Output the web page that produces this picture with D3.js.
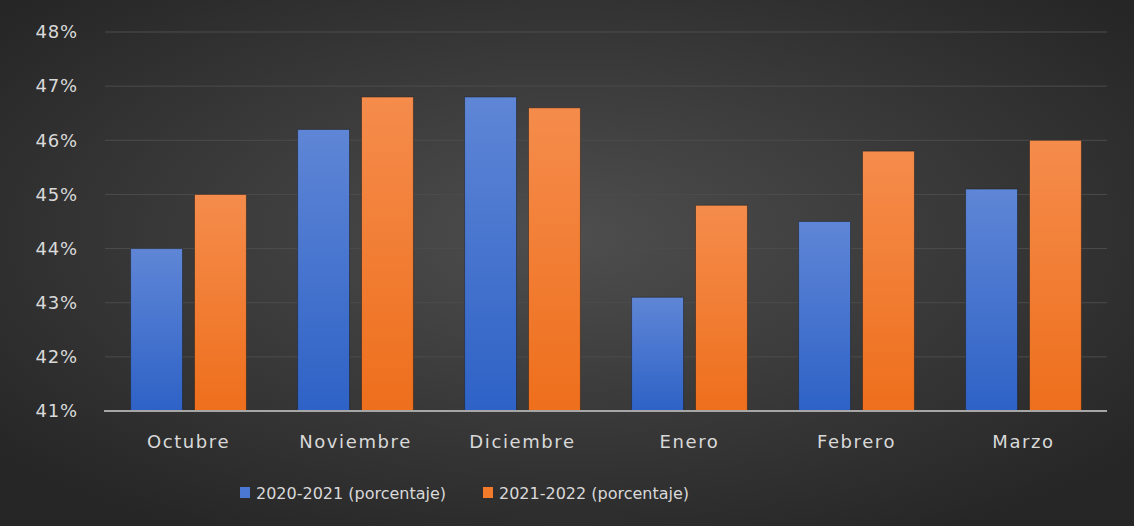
<!DOCTYPE html>
<html>
<head>
<meta charset="utf-8">
<script src="https://cdn.jsdelivr.net/npm/d3@7"></script>
<style>
  body { margin: 0; background: #2a2a2a; }
  svg { display: block; }
  text { font-family: "DejaVu Sans", sans-serif; fill: #d9d9d9; }
</style>
</head>
<body>
<div id="chart"></div>
<script>
var months = ["Octubre", "Noviembre", "Diciembre", "Enero", "Febrero", "Marzo"];
var serie2021 = [44.0, 46.2, 46.8, 43.1, 44.5, 45.1];
var serie2022 = [45.0, 46.8, 46.6, 44.8, 45.8, 46.0];
var seriesNames = ["2020-2021 (porcentaje)", "2021-2022 (porcentaje)"];
var yTicks = [41, 42, 43, 44, 45, 46, 47, 48];

var width = 1134, height = 526;
var margin = {top: 32, left: 105, right: 27, bottom: 115};

var svg = d3.select("#chart")
    .append("svg")
    .attr("width", width)
    .attr("height", height);

var defs = svg.append("defs");
var bg = defs.append("radialGradient").attr("id", "bg")
    .attr("cx", "50%").attr("cy", "45%").attr("r", "65%");
bg.append("stop").attr("offset", "0%").attr("stop-color", "#4e4e4e");
bg.append("stop").attr("offset", "100%").attr("stop-color", "#262626");

var gBlue = defs.append("linearGradient").attr("id", "gBlue")
    .attr("x1", 0).attr("y1", 0).attr("x2", 0).attr("y2", 1);
gBlue.append("stop").attr("offset", "0%").attr("stop-color", "#5f86d6");
gBlue.append("stop").attr("offset", "100%").attr("stop-color", "#2e62c6");
var gOrange = defs.append("linearGradient").attr("id", "gOrange")
    .attr("x1", 0).attr("y1", 0).attr("x2", 0).attr("y2", 1);
gOrange.append("stop").attr("offset", "0%").attr("stop-color", "#f58c4c");
gOrange.append("stop").attr("offset", "100%").attr("stop-color", "#ee6f1c");
var fills = ["url(#gBlue)", "url(#gOrange)"];
var legendColors = ["#4a78d4", "#f27a2a"];

svg.append("rect").attr("width", width).attr("height", height).attr("fill", "url(#bg)");

var x0 = d3.scaleBand()
    .domain(months)
    .range([margin.left, width - margin.right]);

var x1 = d3.scaleBand()
    .domain([0, 1])
    .range([0, x0.bandwidth()])
    .paddingInner(0.1875)
    .paddingOuter(0.4);

var y = d3.scaleLinear()
    .domain([41, 48])
    .range([height - margin.bottom, margin.top]);

// gridlines
svg.append("g")
    .selectAll("line")
    .data(yTicks.slice(1))
    .join("line")
    .attr("x1", margin.left)
    .attr("x2", width - margin.right)
    .attr("y1", d => y(d))
    .attr("y2", d => y(d))
    .attr("stroke", "#4c4c4c")
    .attr("stroke-width", 1);

// y labels
svg.append("g")
    .selectAll("text")
    .data(yTicks)
    .join("text")
    .attr("x", 78)
    .attr("y", d => y(d))
    .attr("dy", "0.35em")
    .attr("text-anchor", "end")
    .style("font-size", "18px")
    .style("letter-spacing", "0.8px")
    .text(d => d + "%");

var rows = months.map(function(m, i) {
    return {month: m, values: [serie2021[i], serie2022[i]]};
});

var groups = svg.append("g")
    .selectAll("g")
    .data(rows)
    .join("g")
    .attr("transform", d => "translate(" + x0(d.month) + ",0)");

groups.selectAll("rect")
    .data(d => d.values.map((v, k) => ({k: k, v: v})))
    .join("rect")
    .attr("x", d => x1(d.k))
    .attr("width", x1.bandwidth())
    .attr("y", d => y(d.v))
    .attr("height", d => y(41) - y(d.v))
    .attr("fill", d => fills[d.k])
    .attr("stroke", "#1e1e1e")
    .attr("stroke-opacity", 0.5)
    .attr("stroke-width", 1);

// axis line
svg.append("line")
    .attr("x1", margin.left - 1)
    .attr("x2", width - margin.right)
    .attr("y1", y(41))
    .attr("y2", y(41))
    .attr("stroke", "#a6a6a6")
    .attr("stroke-width", 2);

// x labels
svg.append("g")
    .selectAll("text")
    .data(months)
    .join("text")
    .attr("x", d => x0(d) + x0.bandwidth() / 2)
    .attr("y", 448)
    .attr("text-anchor", "middle")
    .style("font-size", "18px")
    .style("letter-spacing", "1.6px")
    .text(d => d);

// legend
var legend = svg.append("g");
var legendX = [240, 483];
seriesNames.forEach(function(name, k) {
    legend.append("rect")
        .attr("x", legendX[k])
        .attr("y", 487)
        .attr("width", 10)
        .attr("height", 11)
        .attr("fill", legendColors[k]);
    legend.append("text")
        .attr("x", legendX[k] + 16)
        .attr("y", 499)
        .style("font-size", "16px")
        .text(name);
});
</script>
</body>
</html>
